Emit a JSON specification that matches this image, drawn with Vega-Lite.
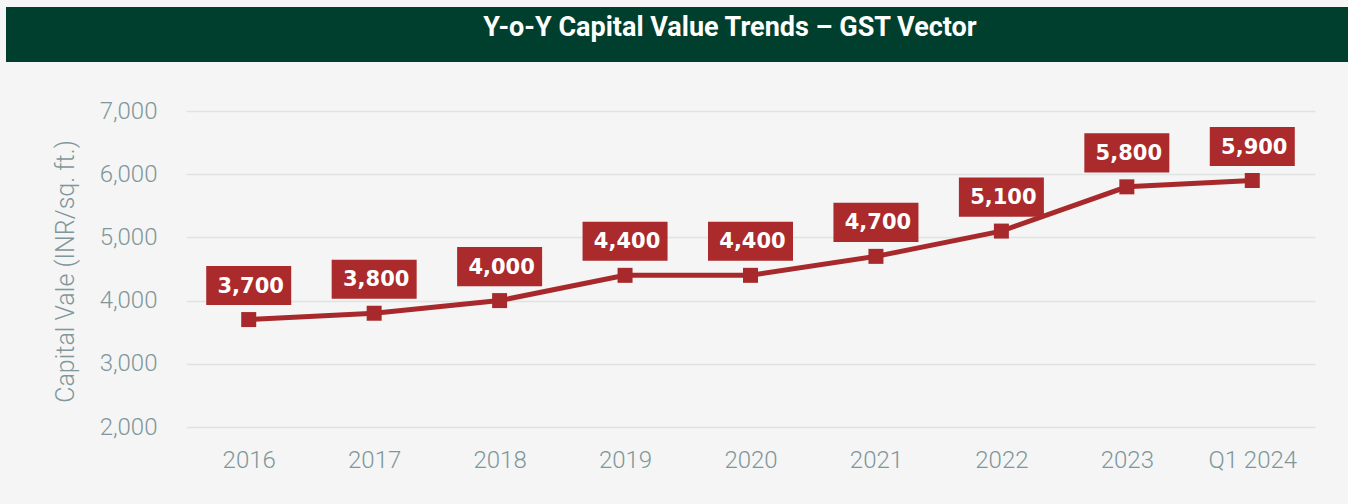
{
  "$schema": "https://vega.github.io/schema/vega-lite/v6.json",
  "background": "#f5f5f5",
  "padding": {"left": 6, "top": 7, "right": 0, "bottom": 32},
  "spacing": 37,
  "bounds": "full",
  "config": {"view": {"stroke": null}, "font": "Roboto"},
  "vconcat": [
    {
      "width": 1342,
      "height": 55,
      "view": {"fill": "#003f2d", "stroke": null},
      "data": {"values": [{"title": "Y-o-Y Capital Value Trends – GST Vector"}]},
      "mark": {"type": "text", "color": "#ffffff", "font": "Roboto", "fontWeight": "bold", "fontSize": 27, "dx": 53, "dy": -7},
      "encoding": {"text": {"field": "title"}}
    },
    {
      "width": 1309,
      "height": 316,
      "data": {
        "values": [
          {"period": "2016", "value": 3700},
          {"period": "2017", "value": 3800},
          {"period": "2018", "value": 4000},
          {"period": "2019", "value": 4400},
          {"period": "2020", "value": 4400},
          {"period": "2021", "value": 4700},
          {"period": "2022", "value": 5100},
          {"period": "2023", "value": 5800},
          {"period": "Q1 2024", "value": 5900}
        ]
      },
      "encoding": {
        "x": {
          "field": "period",
          "type": "ordinal",
          "sort": null,
          "scale": {"type": "point", "padding": 0.5, "range": [180, 1309]},
          "axis": {
            "title": null,
            "labelAngle": 0,
            "labelFont": "Roboto",
            "labelFontSize": 24,
            "labelFontWeight": 300,
            "labelColor": "#7f979a",
            "labelPadding": 21,
            "domain": false,
            "ticks": false,
            "grid": false
          }
        },
        "y": {
          "field": "value",
          "type": "quantitative",
          "scale": {"domain": [2000, 7000], "nice": false, "zero": false},
          "axis": {
            "values": [2000, 3000, 4000, 5000, 6000, 7000],
            "format": ",.0f",
            "offset": -180,
            "title": "Capital Vale (INR/sq. ft.)",
            "titleX": -108,
            "titleY": 160,
            "titleFont": "Roboto",
            "titleFontSize": 25,
            "titleFontWeight": 300,
            "titleColor": "#7f979a",
            "labelFont": "Roboto",
            "labelFontSize": 24,
            "labelFontWeight": 300,
            "labelColor": "#7f979a",
            "labelPadding": 29,
            "domain": false,
            "ticks": false,
            "grid": true,
            "gridColor": "#dfe4e3",
            "gridWidth": 1.5
          }
        }
      },
      "layer": [
        {"mark": {"type": "line", "color": "#a8292b", "strokeWidth": 5}},
        {"mark": {"type": "point", "shape": "square", "filled": true, "size": 225, "color": "#a8292b", "opacity": 1}},
        {"mark": {"type": "point", "shape": "M-1,-0.46L1,-0.46L1,0.46L-1,0.46Z", "filled": true, "size": 7225, "color": "#ab2a2c", "opacity": 1, "yOffset": -34}},
        {
          "mark": {"type": "text", "font": "DejaVu Sans", "fontWeight": "bold", "fontSize": 21, "color": "#ffffff", "dy": -33, "dx": 2},
          "encoding": {"text": {"field": "value", "type": "quantitative", "format": ",.0f"}}
        }
      ]
    }
  ]
}
